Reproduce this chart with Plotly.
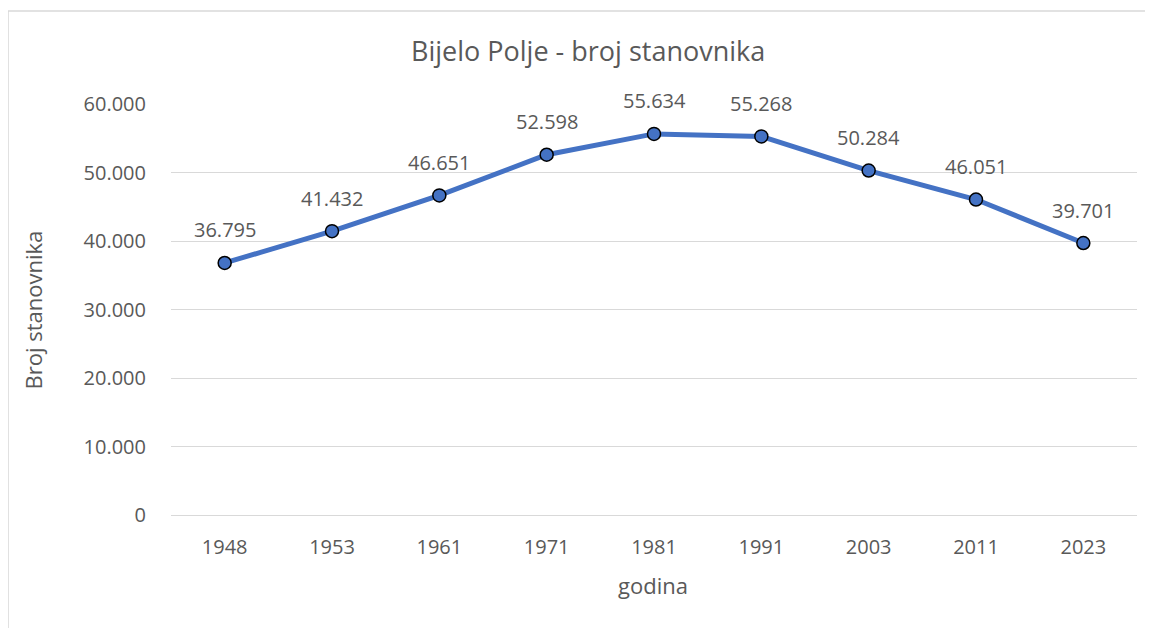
import plotly.graph_objects as go

years = ['1948', '1953', '1961', '1971', '1981', '1991', '2003', '2011', '2023']
population = [36795, 41432, 46651, 52598, 55634, 55268, 50284, 46051, 39701]
y_ticks = [0, 10000, 20000, 30000, 40000, 50000, 60000]

def fmt(v):
    return f'{v:,}'.replace(',', '.')

FONT = 'Open Sans'
GREY = '#595959'

fig = go.Figure()
fig.add_trace(go.Scatter(
    x=years, y=population, mode='lines+markers',
    line=dict(color='#4472C4', width=5),
    marker=dict(size=13, color='#4472C4', line=dict(color='black', width=1.5)),
    cliponaxis=False,
))

# data labels above each point (category index on x)
notes = [dict(x=i, y=v, text=fmt(v), showarrow=False, yshift=33,
              xanchor='center', yanchor='middle',
              font=dict(family=FONT, size=20, color=GREY))
         for i, v in enumerate(population)]

notes += [
    dict(text='Bijelo Polje - broj stanovnika', x=0.4312, y=1.131,
         xref='paper', yref='paper', showarrow=False,
         xanchor='center', yanchor='middle',
         font=dict(size=27, color=GREY, family=FONT)),
    dict(text='Broj stanovnika', x=-0.1429, y=0.5, textangle=-90,
         xref='paper', yref='paper', showarrow=False,
         xanchor='center', yanchor='middle',
         font=dict(size=22, color=GREY, family=FONT)),
    dict(text='godina', x=0.499, y=-0.17,
         xref='paper', yref='paper', showarrow=False,
         xanchor='center', yanchor='middle',
         font=dict(size=22, color=GREY, family=FONT)),
]

fig.update_layout(
    width=1145, height=620,
    margin=dict(l=163, r=16, t=96, b=113),
    plot_bgcolor='white', paper_bgcolor='white',
    showlegend=False,
    font=dict(family=FONT, color=GREY),
    xaxis=dict(type='category', range=[-0.5, 8.5], showgrid=False,
               showline=False, ticks='outside', ticklen=14, tickcolor='white',
               tickfont=dict(size=20, color=GREY)),
    yaxis=dict(range=[0, 60000], tickvals=y_ticks,
               ticktext=[fmt(v) for v in y_ticks],
               showgrid=True, gridcolor='#d9d9d9', gridwidth=1,
               zeroline=True, zerolinecolor='#d9d9d9', zerolinewidth=1,
               ticks='outside', ticklen=20, tickcolor='white',
               tickfont=dict(size=20, color=GREY)),
    annotations=notes,
    shapes=[dict(type='rect', xref='paper', yref='paper',
                 x0=-0.1687, x1=1.2, y0=-0.5, y1=1.2263,
                 line=dict(color='#d9d9d9', width=1.5), layer='below')],
)

fig.write_html('out.html')
